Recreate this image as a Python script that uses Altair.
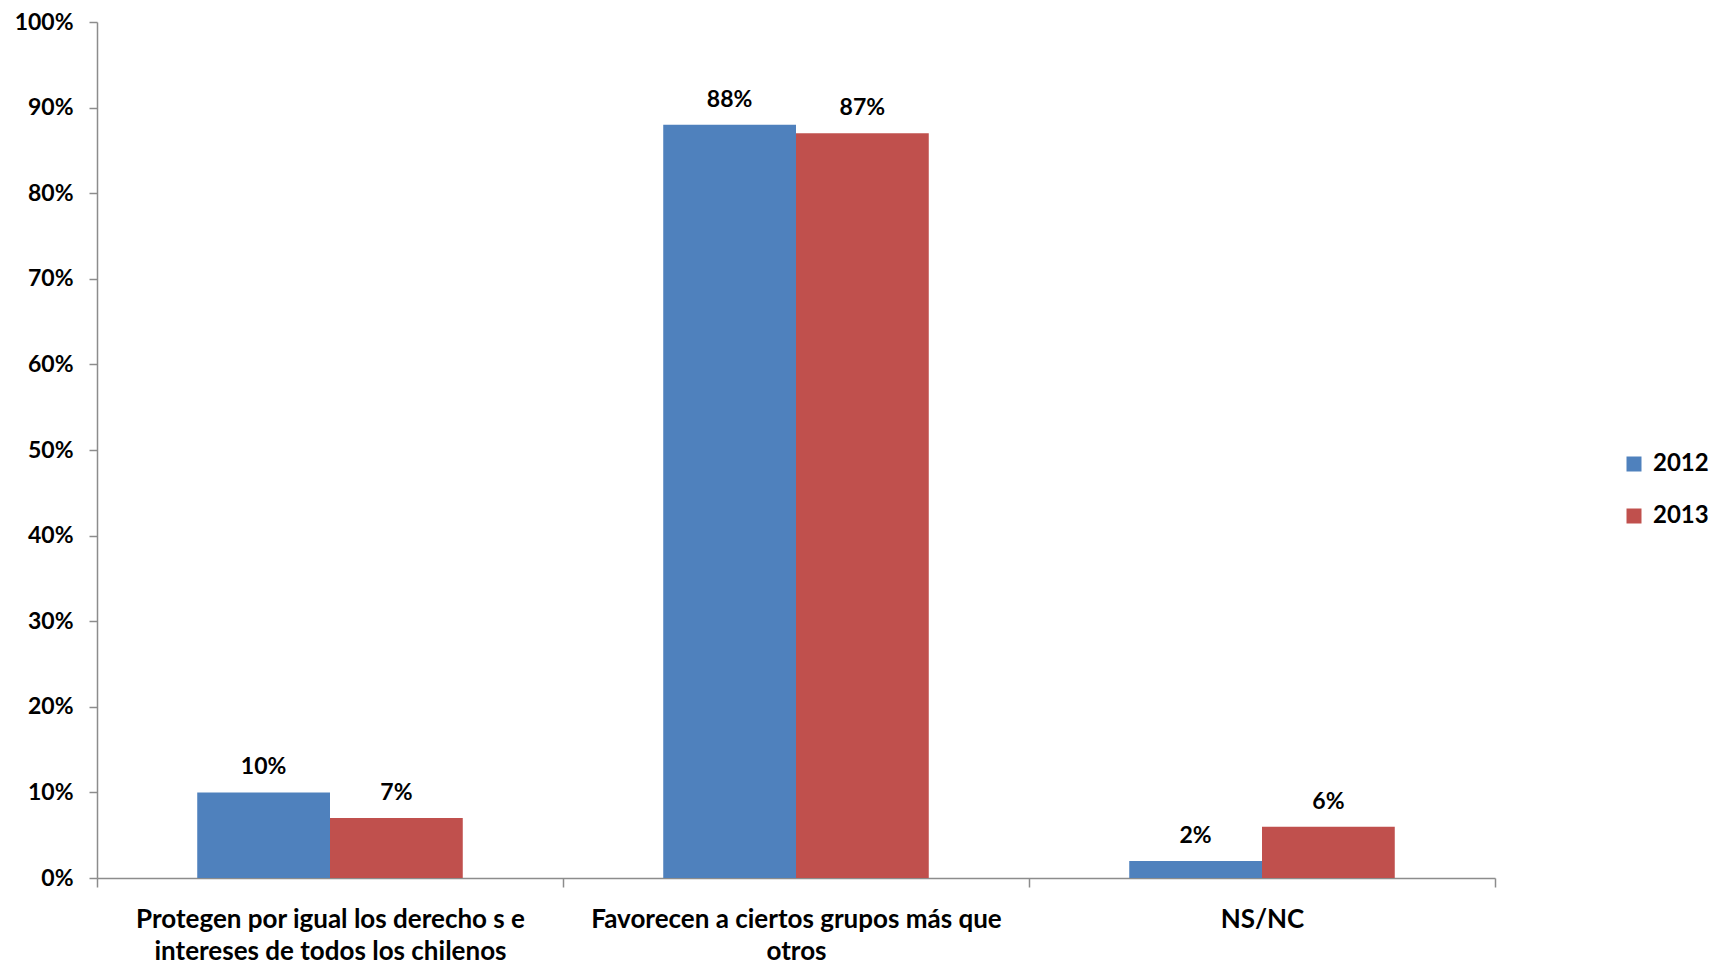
import altair as alt
import pandas as pd
import json

categories = [
    "Protegen por igual los derecho s e intereses de todos los chilenos",
    "Favorecen a ciertos grupos más que otros",
    "NS/NC",
]
label_lines = [
    ["Protegen por igual los derecho s e", "intereses de todos los chilenos"],
    ["Favorecen a ciertos grupos más que", "otros"],
    ["NS/NC"],
]
years = ["2012", "2013"]
values_2012 = [10, 88, 2]
values_2013 = [7, 87, 6]
colors = ["#4F81BD", "#C0504D"]
y_ticks = [0, 10, 20, 30, 40, 50, 60, 70, 80, 90, 100]

rows = []
for c, a, b in zip(categories, values_2012, values_2013):
    rows.append({"cat": c, "year": years[0], "value": a / 100})
    rows.append({"cat": c, "year": years[1], "value": b / 100})
df = pd.DataFrame(rows)

# label expression for multi-line category labels
expr = "''"
for c, lines in reversed(list(zip(categories, label_lines))):
    expr = f"datum.label == {json.dumps(c)} ? {json.dumps(lines)} : ({expr})"

FONT = "Lato"
AXIS_COLOR = "#8C8C8C"

x = alt.X(
    "cat:N",
    sort=categories,
    scale=alt.Scale(paddingInner=0, paddingOuter=0),
    axis=alt.Axis(
        title=None,
        labelAngle=0,
        labelExpr=expr,
        labelFont=FONT,
        labelFontSize=26,
        labelFontWeight="bold",
        labelColor="#000000",
        labelLineHeight=32,
        labelPadding=19,
        labelBaseline="top",
        labelLimit=0,
        tickBand="extent",
        tickSize=9,
        tickColor=AXIS_COLOR,
        domainColor=AXIS_COLOR,
        domainWidth=1.5,
        tickWidth=1.5,
        grid=False,
    ),
)
xo = alt.XOffset("year:N", sort=years, scale=alt.Scale(paddingInner=0, paddingOuter=0.755))
y = alt.Y(
    "value:Q",
    scale=alt.Scale(domain=[0, 1], nice=False),
    axis=alt.Axis(
        title=None,
        values=[v / 100 for v in y_ticks],
        format=".0%",
        labelFont=FONT,
        labelFontSize=23,
        labelFontWeight="bold",
        labelColor="#000000",
        labelPadding=16,
        tickSize=8,
        tickColor=AXIS_COLOR,
        domainColor=AXIS_COLOR,
        domainWidth=1.5,
        tickWidth=1.5,
        grid=False,
    ),
)
color = alt.Color(
    "year:N",
    sort=years,
    scale=alt.Scale(domain=years, range=colors),
    legend=alt.Legend(
        title=None,
        orient="none",
        legendX=1525,
        legendY=430,
        symbolType="square",
        symbolSize=225,
        symbolStrokeWidth=0,
        labelFont=FONT,
        labelFontSize=24,
        labelFontWeight="bold",
        labelColor="#000000",
        labelLimit=0,
        rowPadding=28,
        labelOffset=7,
        padding=0,
    ),
)

bars = alt.Chart(df).mark_bar(strokeWidth=0).encode(x=x, xOffset=xo, y=y, color=color)
texts = alt.Chart(df).mark_text(
    baseline="bottom", dy=-13, font=FONT, fontSize=23, fontWeight="bold", color="#000000"
).encode(x=x, xOffset=xo, y=y, text=alt.Text("value:Q", format=".0%"))

chart = (
    alt.layer(bars, texts)
    .properties(
        width=1398,
        height=856,
        background="#FFFFFF",
        autosize=alt.AutoSizeParams(type="none"),
        padding={"left": 89, "top": 14, "right": 218, "bottom": 88},
    )
    .configure_view(stroke=None)
)

chart.save("out.html", embed_options={"renderer": "svg", "actions": False})
